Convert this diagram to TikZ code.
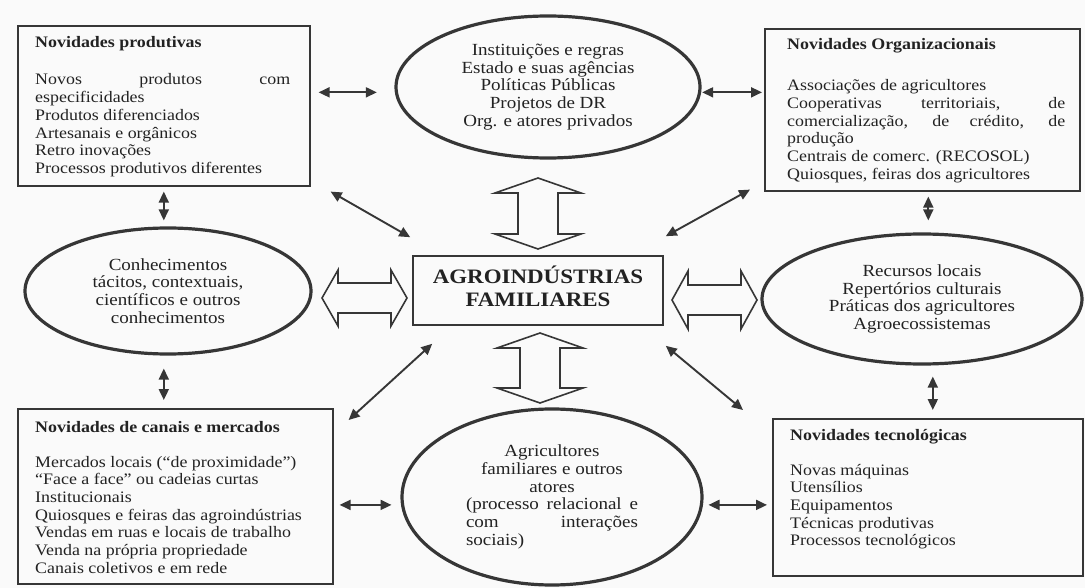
\documentclass[tikz,border=0pt]{standalone}
\usepackage{fontspec}
\setmainfont{Liberation Serif}[FakeStretch=1.12]
\usetikzlibrary{arrows.meta,shapes.geometric}
\definecolor{ink}{HTML}{363636}
\definecolor{txt}{HTML}{222222}
\definecolor{paper}{HTML}{FAFAFA}
\tikzset{
  pics/dblarrow/.style n args={4}{code={
    \draw[hollow] (0,0) -- (#4,#2) -- (#4,#3) -- (#1-#4,#3) -- (#1-#4,#2) -- (#1,0)
      -- (#1-#4,-#2) -- (#1-#4,-#3) -- (#4,-#3) -- (#4,-#2) -- cycle;
  }}
}
\begin{document}
\begin{tikzpicture}[x=1pt,y=-1pt,
  every node/.style={text=txt, font=\fontsize{16}{17.7}\selectfont},
  box/.style={draw=ink, line width=1.6pt, rectangle, inner sep=0pt, anchor=north west},
  oval/.style={draw=ink, line width=3.2pt, ellipse, inner sep=0pt, align=center, font=\fontsize{17}{17.8}\selectfont},
  btext/.style={anchor=base west, inner sep=0pt, align=justify},
  conn/.style={draw=ink, line width=1.9pt, {Triangle[length=11pt,width=10pt]}-{Triangle[length=11pt,width=10pt]}},
  hollow/.style={draw=ink, line width=1.6pt, fill=paper, line join=miter},
]
\fill[paper] (0,0) rectangle (1085,588);
\useasboundingbox (0,0) rectangle (1085,588);

% boxes
\node[box, minimum width=292, minimum height=160] (bp) at (17,25) {};
\node[btext, text width=255] (bpt) at (35,48) {\textbf{Novidades produtivas}\par\vspace{19.3pt}Novos produtos com\linebreak especificidades\par Produtos diferenciados\par Artesanais e orgânicos\par Retro inovações\par Processos produtivos diferentes};

\node[box, minimum width=315, minimum height=162] (bo) at (764,28) {};
\node[btext, text width=278] (bot) at (787,50) {\textbf{Novidades Organizacionais}\par\vspace{23pt}Associações de agricultores\par Cooperativas territoriais, de\linebreak comercialização, de crédito, de\linebreak produção\par Centrais de comerc. (RECOSOL)\par Quiosques, feiras dos agricultores};

\node[box, minimum width=315, minimum height=175] (bc) at (17,408) {};
\node[btext, text width=290] (bct) at (35,432) {\textbf{Novidades de canais e mercados}\par\vspace{17.3pt}Mercados locais (“de proximidade”)\par “Face a face” ou cadeias curtas\par Institucionais\par Quiosques e feiras das agroindústrias\par Vendas em ruas e locais de trabalho\par Venda na própria propriedade\par Canais coletivos e em rede};

\node[box, minimum width=310, minimum height=157] (bt) at (772,418) {};
\node[btext, text width=270] (btt) at (790,440) {\textbf{Novidades tecnológicas}\par\vspace{17.3pt}Novas máquinas\par Utensílios\par Equipamentos\par Técnicas produtivas\par Processos tecnológicos};

% ellipses
\node[oval, minimum width=304, minimum height=142] (te) at (548,87) {Instituições e regras\\Estado e suas agências\\Políticas Públicas\\Projetos de DR\\Org. e atores privados};
\node[oval, minimum width=286, minimum height=126] (le) at (168,291) {Conhecimentos\\tácitos, contextuais,\\científicos e outros\\conhecimentos};
\node[oval, minimum width=320, minimum height=130] (re) at (922,299) {Recursos locais\\Repertórios culturais\\Práticas dos agricultores\\Agroecossistemas};
\node[oval, minimum width=300, minimum height=176, text width=172, align=justify] (be) at (552,497) {{\centering Agricultores\\familiares e outros\\atores\par}(processo relacional e\linebreak com interações\linebreak sociais)};

% center
\node[draw=ink, line width=1.6pt, minimum width=250, minimum height=69, inner sep=0pt] (ce) at (538,290.5) {};
\node[align=center, inner sep=0pt, font=\fontsize{20.5}{23}\selectfont\bfseries] (cet) at (538,286.5) {AGROINDÚSTRIAS\\FAMILIARES};

% hollow arrows
\pic at (322,298) {dblarrow={85}{28}{15}{16}};
\pic at (672,300) {dblarrow={85}{29}{15}{16}};
\pic[rotate=-90] at (538,178) {dblarrow={71}{43}{20}{15}};
\pic[rotate=-90] at (540,333) {dblarrow={70}{43}{20}{15}};

% straight connectors
\draw[conn, shorten <=8, shorten >=18] (bp.east |- te.182) -- (te.182);
\draw[conn, shorten <=1, shorten >=2] (te.-2) -- (bo.west |- te.-2);
\draw[conn, shorten <=5, shorten >=6] (bp.south) -- (bp.south |- le.north);
\draw[conn, shorten <=13, shorten >=8] (bp.south |- le.south) -- (bp.south |- bc.north);
\draw[conn, shorten <=5, shorten >=12] ([xshift=6]bo.south) -- ([xshift=6]bo.south |- re.north);
\draw[conn, shorten <=11, shorten >=8] ([xshift=5]bt.north |- re.south) -- ([xshift=5]bt.north);
\draw[conn, shorten <=6, shorten >=9.5] (bc.east |- be.183) -- (be.183);
\draw[conn, shorten <=5.5, shorten >=5] (be.-3) -- (bt.west |- be.-3);

% diagonal connectors
\coordinate (d1a) at ([shift={(20,5)}]bp.south east);
\coordinate (d1b) at ([shift={(-2,-18)}]ce.north west);
\coordinate (d2a) at ([shift={(-14,-2)}]bo.south west);
\coordinate (d2b) at ([shift={(2,-19)}]ce.north east);
\coordinate (d3a) at ([shift={(15,12)}]bc.north east);
\coordinate (d3b) at ([shift={(20,18)}]ce.south west);
\coordinate (d4a) at ([shift={(2,20)}]ce.south east);
\coordinate (d4b) at ([shift={(-29,-8)}]bt.north west);
\draw[conn] (d1a) -- (d1b);
\draw[conn] (d2a) -- (d2b);
\draw[conn] (d3a) -- (d3b);
\draw[conn] (d4a) -- (d4b);
\end{tikzpicture}
\end{document}
